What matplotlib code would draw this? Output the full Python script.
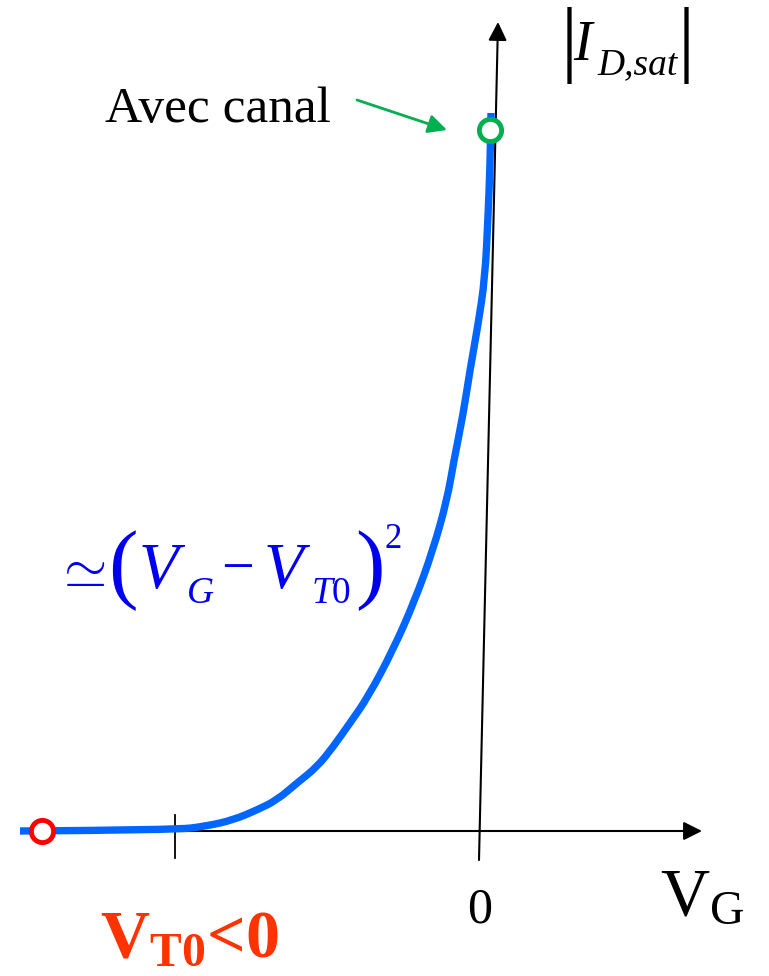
import matplotlib
matplotlib.use("Agg")
import matplotlib.pyplot as plt
from matplotlib.path import Path
from matplotlib.patches import PathPatch

plt.rcParams['mathtext.fontset'] = 'custom'
plt.rcParams['mathtext.rm'] = 'Liberation Serif'
plt.rcParams['mathtext.it'] = 'Liberation Serif:italic'
plt.rcParams['mathtext.bf'] = 'Liberation Serif:bold'
plt.rcParams['font.family'] = ['Liberation Serif', 'DejaVu Serif']

# Curve data (V_G, |I_D,sat|) in arbitrary units
vg = [-4.56, -3.01, -2.69, -2.43, -2.19, -1.99, -1.79, -1.59, -1.43, -1.26, -1.08,
      -0.83, -0.61, -0.43, -0.29, -0.22, -0.13, -0.06, 0.02, 0.09, 0.12, 0.14, 0.15]
id_sat = [0.00, 0.01, 0.05, 0.11, 0.21, 0.31, 0.48, 0.64, 0.84, 1.08, 1.34,
          1.81, 2.31, 2.81, 3.31, 3.71, 4.16, 4.61, 5.06, 5.53, 6.14, 6.64, 7.18]

vt0 = -3.01
red_pt = (-4.34, 0.0)
green_pt = (0.14, 7.01)

fig = plt.figure(figsize=(7.69, 9.76), dpi=100)
ax = fig.add_axes([0, 0, 1, 1])
ax.set_xlim(-4.76, 2.93)
ax.set_ylim(-1.45, 8.31)
ax.axis('off')

# axes with arrows
ax.annotate('', xy=(2.26, 0.0), xytext=(vt0, 0.0),
            arrowprops=dict(arrowstyle='-|>', color='black', lw=1.5,
                            mutation_scale=28, shrinkA=0, shrinkB=0))
ax.annotate('', xy=(0.22, 8.09), xytext=(0.03, -0.29),
            arrowprops=dict(arrowstyle='-|>', color='black', lw=1.5,
                            mutation_scale=28, shrinkA=0, shrinkB=0))
# tick at VT0
ax.plot([vt0, vt0], [0.16, -0.27], color='black', lw=1.3)

# smooth curve rendered as quadratic Bezier through the data points
pts = list(zip(vg, id_sat))
verts = [pts[0]]
codes = [Path.MOVETO]
for i in range(1, len(pts) - 1):
    mid = ((pts[i][0] + pts[i + 1][0]) / 2, (pts[i][1] + pts[i + 1][1]) / 2)
    verts += [pts[i], mid]
    codes += [Path.CURVE3, Path.CURVE3]
verts.append(pts[-1])
codes.append(Path.LINETO)
ax.add_patch(PathPatch(Path(verts, codes), fill=False, edgecolor='#0066FF',
                       lw=5.3, capstyle='butt', joinstyle='round', zorder=3))

# markers
ax.plot(*red_pt, 'o', ms=16, mfc='white', mec='#FF0000', mew=3.5, zorder=4)
ax.plot(*green_pt, 'o', ms=16, mfc='white', mec='#00B050', mew=3.5, zorder=4)

# green arrow
ax.annotate('', xy=(-0.29, 7.01), xytext=(-1.19, 7.31),
            arrowprops=dict(arrowstyle='-|>', color='#00B050', lw=2,
                            mutation_scale=28, shrinkA=0, shrinkB=0))

ax.text(-3.71, 7.09, 'Avec canal', fontsize=37, color='black',
        ha='left', va='baseline')

# |I_D,sat| label
ax.text(0.97, 7.71, r'$I$', fontsize=40, color='black', ha='left', va='baseline')
ax.text(1.21, 7.57, 'D,sat', fontsize=27, fontstyle='italic', color='black',
        ha='left', va='baseline')
ax.text(0.90, 7.86, r'$|$', fontsize=61, color='black', ha='center', va='center')
ax.text(2.07, 7.86, r'$|$', fontsize=61, color='black', ha='center', va='center')

# formula  ~ (V_G - V_T0)^2
fc = '#0000EE'
ax.text(-3.96, 2.59, r'$\simeq$', fontsize=40, color=fc, ha='center', va='center')
ax.text(-3.54, 2.60, r'$($', fontsize=64, color=fc, ha='center', va='center')
ax.text(-3.37, 2.43, 'V', fontsize=47, fontstyle='italic', color=fc,
        ha='left', va='baseline')
ax.text(-2.90, 2.28, r'$G$', fontsize=27, color=fc, ha='left', va='baseline')
ax.text(-2.55, 2.62, r'$-$', fontsize=42, color=fc, ha='left', va='center')
ax.text(-2.12, 2.43, 'V', fontsize=47, fontstyle='italic', color=fc,
        ha='left', va='baseline')
ax.text(-1.65, 2.28, r'$T0$', fontsize=27, color=fc, ha='left', va='baseline')
ax.text(-1.07, 2.60, r'$)$', fontsize=64, color=fc, ha='center', va='center')
ax.text(-0.92, 2.83, r'$2$', fontsize=25, color=fc, ha='left', va='baseline')

ax.text(0.04, -0.79, '0', fontsize=36, color='black', ha='center', va='center')
ax.text(1.84, -0.84, r'$\mathrm{V_G}$', fontsize=49, color='black',
        ha='left', va='baseline')
ax.text(-3.76, -1.26, r'$\mathbf{V_{T0}}$<0', fontsize=49, color='#FF3300',
        fontweight='bold', ha='left', va='baseline')

fig.savefig('out.png', dpi=100)
